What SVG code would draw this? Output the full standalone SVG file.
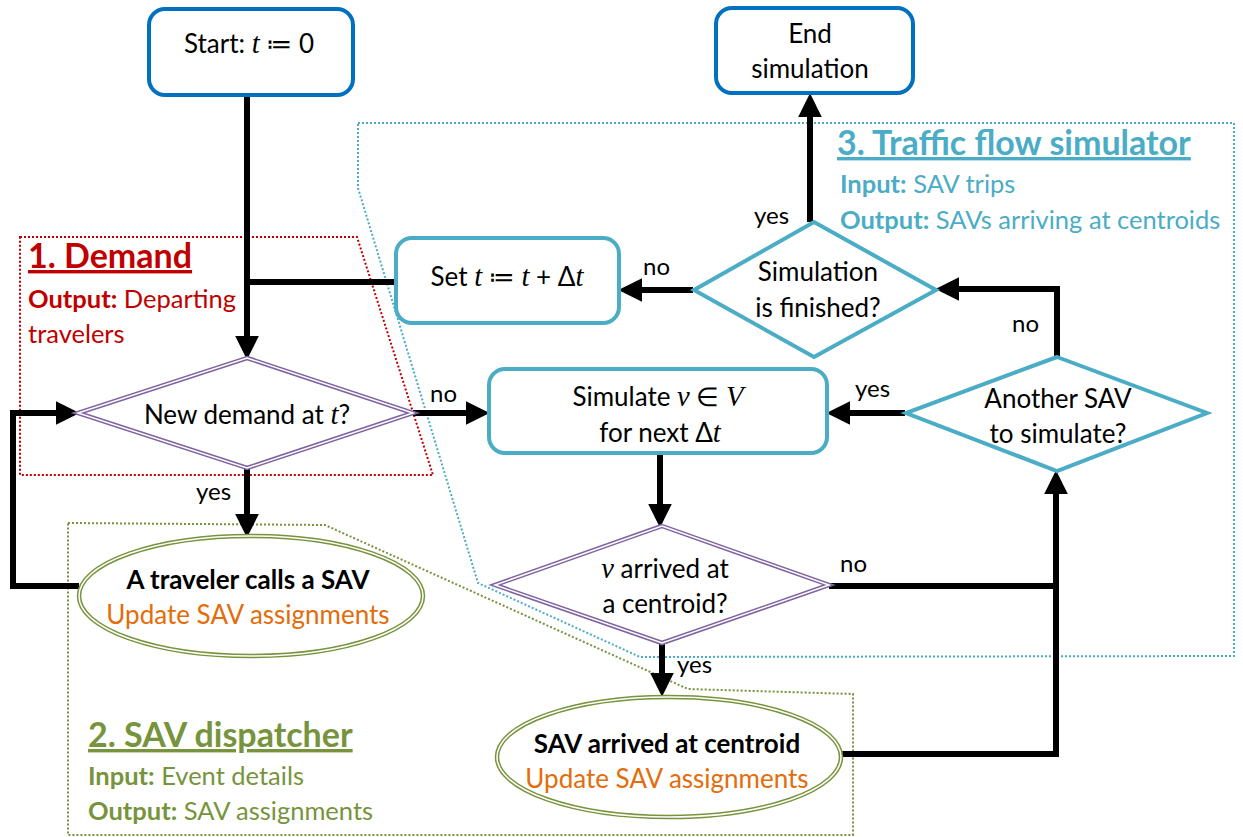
<svg xmlns="http://www.w3.org/2000/svg" width="1243" height="837" viewBox="0 0 1243 837">
<defs>
<marker id="arr" markerUnits="userSpaceOnUse" markerWidth="24" markerHeight="24" viewBox="0 0 22 22" refX="4" refY="11" orient="auto">
<path d="M0,0 L22,11 L0,22 z" fill="#000"/>
</marker>
<style>
text{font-family:Lato,"Liberation Sans",sans-serif;fill:#000}
.n{font-size:26px;text-anchor:middle}
.lbl{font-size:24px}
.m{font-family:"Liberation Serif","DejaVu Serif",serif;font-style:italic;font-size:1.1em}
.op{font-family:"DejaVu Sans","Liberation Serif",serif;font-style:normal}
.blue{fill:#fff;stroke:#0070C0;stroke-width:4}
.teal{fill:#fff;stroke:#4BACC6;stroke-width:4}
.dbo{fill:#fff;stroke-width:4.5}
.dbi{fill:none;stroke:#fff;stroke-width:1.5}
.pur{stroke:#8064A2}
.grn{stroke:#77933C}
.c{fill:none;stroke:#000;stroke-width:6;stroke-linejoin:miter}
.area{fill:none;stroke-width:2;stroke-dasharray:2 2}
.title{font-size:34px;font-weight:bold;text-decoration:underline}
.sub{font-size:25.5px}
.b{font-weight:bold}
</style>
</defs>
<g id="areas">
<polygon class="area" stroke="#C00000" points="20,237 357,237 433,475 20,475"/>
<polygon class="area" stroke="#4BACC6" points="358,123 1234,123 1234,656 640,657 478,583 358,188"/>
<polygon class="area" stroke="#77933C" points="68,523 325,525 688,689 853,694 853,835 68,835"/>
</g>
<g id="area-labels">
<text class="title" x="28" y="268" style="fill:#C00000">1. Demand</text>
<text class="sub" x="28" y="308" style="fill:#C00000"><tspan class="b">Output:</tspan> Departing</text>
<text class="sub" x="28" y="343" style="fill:#C00000">travelers</text>
<text class="title" x="837" y="155" style="fill:#4BACC6">3. Traffic flow simulator</text>
<text class="sub" x="840" y="193" style="fill:#4BACC6"><tspan class="b">Input:</tspan> SAV trips</text>
<text class="sub" x="840" y="229" style="fill:#4BACC6"><tspan class="b">Output:</tspan> SAVs arriving at centroids</text>
<text class="title" x="88" y="747" style="fill:#77933C">2. SAV dispatcher</text>
<text class="sub" x="88" y="785" style="fill:#77933C"><tspan class="b">Input:</tspan> Event details</text>
<text class="sub" x="88" y="820" style="fill:#77933C"><tspan class="b">Output:</tspan> SAV assignments</text>
</g>
<g id="connectors">
<path class="c" d="M247,96 V340" marker-end="url(#arr)"/>
<path class="c" d="M395,282 H244"/>
<path class="c" d="M413,413 H470" marker-end="url(#arr)"/>
<path class="c" d="M247,468 V518" marker-end="url(#arr)"/>
<path class="c" d="M79,586 H13 V413 H60" marker-end="url(#arr)"/>
<path class="c" d="M810,222 V113" marker-end="url(#arr)"/>
<path class="c" d="M693,290 H638" marker-end="url(#arr)"/>
<path class="c" d="M1057,357 V289 H955" marker-end="url(#arr)"/>
<path class="c" d="M905,413 H846" marker-end="url(#arr)"/>
<path class="c" d="M660,453 V508" marker-end="url(#arr)"/>
<path class="c" d="M662,643 V677" marker-end="url(#arr)"/>
<path class="c" d="M829,586 H1056"/>
<path class="c" d="M842,754 H1056 V490" marker-end="url(#arr)"/>
<text class="lbl" x="430" y="402">no</text>
<text class="lbl" x="754" y="224">yes</text>
<text class="lbl" x="643" y="275">no</text>
<text class="lbl" x="1012" y="332">no</text>
<text class="lbl" x="855" y="397">yes</text>
<text class="lbl" x="196" y="500">yes</text>
<text class="lbl" x="677" y="673">yes</text>
<text class="lbl" x="840" y="572">no</text>
</g>
<g id="start">
<rect class="blue" x="149" y="9" width="204" height="86" rx="16"/>
<text class="n" x="249" y="53">Start: <tspan class="m">t</tspan> <tspan class="op">≔</tspan> 0</text>
</g>
<g id="end">
<rect class="blue" x="716" y="8" width="197" height="85" rx="16"/>
<text class="n" x="810" y="43">End</text>
<text class="n" x="810" y="78">simulation</text>
</g>
<g id="set-t">
<rect class="teal" x="396" y="238" width="223" height="85" rx="16"/>
<text class="n" x="507" y="286">Set <tspan class="m">t</tspan> <tspan class="op">≔</tspan> <tspan class="m">t</tspan> + Δ<tspan class="m">t</tspan></text>
</g>
<g id="sim-finished">
<polygon class="teal" points="814,222 936,290 814,357 694,290"/>
<text class="n" x="818" y="281">Simulation</text>
<text class="n" x="818" y="317">is finished?</text>
</g>
<g id="simulate">
<rect class="teal" x="489" y="369" width="338" height="84" rx="16"/>
<text class="n" x="658" y="406">Simulate <tspan class="m">v</tspan> ∈ <tspan class="m">V</tspan></text>
<text class="n" x="660" y="442">for next Δ<tspan class="m">t</tspan></text>
</g>
<g id="another-sav">
<polygon class="teal" points="1057,357 1207,413 1057,471 906,413"/>
<text class="n" x="1058" y="408">Another SAV</text>
<text class="n" x="1058" y="443">to simulate?</text>
</g>
<g id="new-demand">
<polygon class="dbo pur" points="247,358 413,413 247,468 78,413"/>
<polygon class="dbi" points="247,358 413,413 247,468 78,413"/>
<text class="n" x="247" y="424">New demand at <tspan class="m">t</tspan>?</text>
</g>
<g id="v-arrived">
<polygon class="dbo pur" points="662,526 829,585 662,643 495,585"/>
<polygon class="dbi" points="662,526 829,585 662,643 495,585"/>
<text class="n" x="665" y="578"><tspan class="m">v</tspan> arrived at</text>
<text class="n" x="665" y="613">a centroid?</text>
</g>
<g id="traveler-calls">
<ellipse class="dbo grn" cx="251" cy="596" rx="172" ry="60"/>
<ellipse class="dbi" cx="251" cy="596" rx="172" ry="60"/>
<text class="n b" x="248" y="589">A traveler calls a SAV</text>
<text class="n" x="248" y="624" style="fill:#E46C0A">Update SAV assignments</text>
</g>
<g id="sav-arrived">
<ellipse class="dbo grn" cx="669" cy="757" rx="172" ry="60"/>
<ellipse class="dbi" cx="669" cy="757" rx="172" ry="60"/>
<text class="n b" x="667" y="753">SAV arrived at centroid</text>
<text class="n" x="667" y="788" style="fill:#E46C0A">Update SAV assignments</text>
</g>
</svg>
